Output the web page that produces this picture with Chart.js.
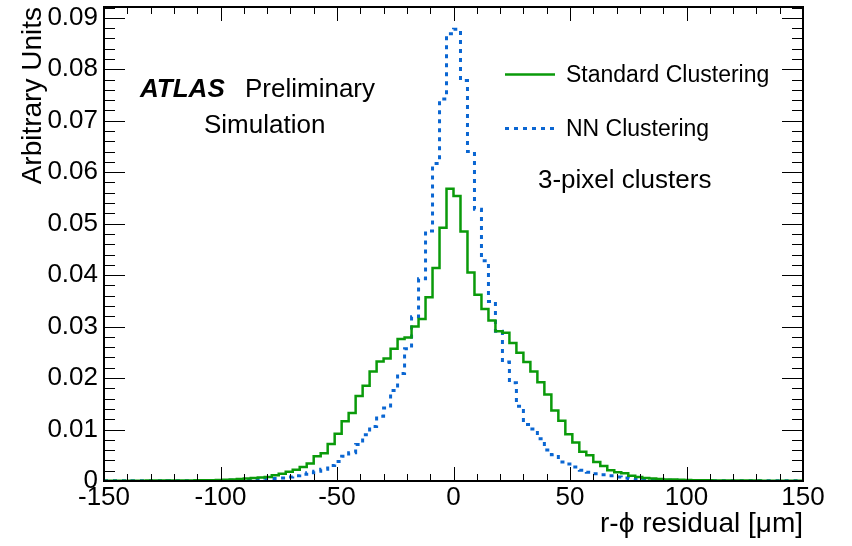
<!DOCTYPE html>
<html>
<head>
<meta charset="utf-8">
<script src="https://cdn.jsdelivr.net/npm/chart.js@4.4.0/dist/chart.umd.min.js"></script>
<style>
  html, body { margin: 0; padding: 0; background: #ffffff; }
  #wrap { width: 852px; height: 546px; }
</style>
</head>
<body>
<div id="wrap"><canvas id="c" width="852" height="546"></canvas></div>
<script>
// Histogram binning: 100 bins of 3 um between -150 and 150 um
const xMin = -150;
const xMax = 150;
const binWidth = 3;
const binEdges = Array.from({ length: 101 }, (_, i) => xMin + i * binWidth);

// Normalised r-phi residuals, one value per bin (left to right)
const standardClustering = [
  0.00005, 0.00005, 0.00005, 0.00006, 0.00006, 0.00007, 0.00008, 0.00008, 0.0001, 0.0001,
  0.0001, 0.00011, 0.00012, 0.00013, 0.00015, 0.00017, 0.0002, 0.00025, 0.0003, 0.0004,
  0.0005, 0.0006, 0.0007, 0.0008, 0.0011, 0.0014, 0.0018, 0.0022, 0.0027, 0.0034,
  0.0048, 0.0054, 0.0072, 0.0092, 0.0116, 0.0132, 0.0165, 0.0185, 0.0213, 0.0232,
  0.0238, 0.0257, 0.0276, 0.0279, 0.0300, 0.0315, 0.0357, 0.0414, 0.0492, 0.0568,
  0.0554, 0.0485, 0.0405, 0.0362, 0.0334, 0.0312, 0.0291, 0.0288, 0.0268, 0.0249,
  0.0231, 0.0213, 0.0192, 0.0168, 0.0137, 0.0117, 0.0091, 0.0075, 0.0057, 0.0050,
  0.0037, 0.0029, 0.0021, 0.0017, 0.0015, 0.0010, 0.0008, 0.0006, 0.0005, 0.0004,
  0.0003, 0.0003, 0.00025, 0.0002, 0.00017, 0.00015, 0.00013, 0.00012, 0.00011, 0.0001,
  0.0001, 0.00009, 0.00008, 0.00008, 0.00007, 0.00006, 0.00006, 0.00005, 0.00005, 0.00005
];
const nnClustering = [
  0.00003, 0.00003, 0.00003, 0.00003, 0.00004, 0.00004, 0.00004, 0.00005, 0.00005, 0.00006,
  0.00006, 0.00007, 0.00007, 0.00008, 0.00009, 0.0001, 0.0001, 0.00012, 0.00013, 0.00015,
  0.0002, 0.0003, 0.0003, 0.0004, 0.0005, 0.0006, 0.0008, 0.0010, 0.0013, 0.0016,
  0.0019, 0.0023, 0.0030, 0.0038, 0.0048, 0.0055, 0.0071, 0.0090, 0.0106, 0.0126,
  0.0142, 0.0176, 0.0209, 0.0257, 0.0319, 0.0393, 0.0486, 0.0617, 0.0742, 0.0869,
  0.0878, 0.0778, 0.0640, 0.0528, 0.0428, 0.0349, 0.0291, 0.0231, 0.0191, 0.0145,
  0.0110, 0.0101, 0.0082, 0.0060, 0.0051, 0.0037, 0.0033, 0.0027, 0.0021, 0.0017,
  0.0014, 0.0012, 0.0010, 0.0008, 0.0006, 0.0005, 0.0004, 0.0003, 0.0003, 0.0002,
  0.00015, 0.00013, 0.00012, 0.0001, 0.0001, 0.00009, 0.00008, 0.00007, 0.00007, 0.00006,
  0.00006, 0.00005, 0.00005, 0.00004, 0.00004, 0.00004, 0.00003, 0.00003, 0.00003, 0.00003
];

const seriesNames = ['Standard Clustering', 'NN Clustering'];

const xTickValues = [-150, -100, -50, 0, 50, 100, 150];
const xTickLabels = ['-150', '-100', '-50', '0', '50', '100', '150'];
const yTickValues = [0, 0.01, 0.02, 0.03, 0.04, 0.05, 0.06, 0.07, 0.08, 0.09];
const yTickLabels = ['0', '0.01', '0.02', '0.03', '0.04', '0.05', '0.06', '0.07', '0.08', '0.09'];
const yMax = 0.0921;

const xTitle = 'r-\u03d5 residual [\u03bcm]';
const yTitle = 'Arbitrary Units';

const FONT = "'Liberation Sans', Arial, Helvetica, sans-serif";
const GREEN = '#0a9a0a';
const BLUE = '#0a66d2';

// Step outline: one point per lower bin edge, plus the closing upper edge
function toSteps(values) {
  const pts = values.map((v, i) => ({ x: binEdges[i], y: v }));
  pts.push({ x: binEdges[values.length], y: values[values.length - 1] });
  return pts;
}

// Frame with inward ticks on all four sides
const frameAndTicks = {
  id: 'frameAndTicks',
  afterDatasetsDraw(chart) {
    const { ctx, chartArea: a, scales: { x, y } } = chart;
    ctx.save();
    ctx.strokeStyle = '#000';
    ctx.lineWidth = 1;
    ctx.beginPath();
    for (let v = xMin; v <= xMax; v += 10) {
      const px = Math.round(x.getPixelForValue(v)) + 0.5;
      const len = (v % 50 === 0) ? 14 : 7;
      ctx.moveTo(px, a.bottom); ctx.lineTo(px, a.bottom - len);
      ctx.moveTo(px, a.top); ctx.lineTo(px, a.top + len);
    }
    for (let k = 0; k * 0.002 <= yMax; k++) {
      const py = Math.round(y.getPixelForValue(k * 0.002)) + 0.5;
      const len = (k % 5 === 0) ? 21 : 11;
      ctx.moveTo(a.left, py); ctx.lineTo(a.left + len, py);
      ctx.moveTo(a.right, py); ctx.lineTo(a.right - len, py);
    }
    ctx.stroke();
    ctx.lineWidth = 2;
    ctx.strokeRect(a.left, a.top, a.right - a.left, a.bottom - a.top);
    ctx.restore();
  }
};

// Experiment label, legend and selection note
const labels = {
  id: 'labels',
  afterDraw(chart) {
    const { ctx } = chart;
    ctx.save();
    ctx.fillStyle = '#000';
    ctx.textBaseline = 'alphabetic';
    ctx.textAlign = 'left';

    ctx.font = `italic bold 26px ${FONT}`;
    ctx.fillText('ATLAS', 140, 97);
    ctx.font = `26px ${FONT}`;
    ctx.fillText('Preliminary', 245, 97);
    ctx.fillText('Simulation', 204, 133);
    ctx.fillText('3-pixel clusters', 538, 188);

    const rows = [82, 136];
    chart.data.datasets.forEach((ds, i) => {
      const yMid = rows[i] - 7.5;
      ctx.save();
      ctx.strokeStyle = ds.borderColor;
      ctx.lineWidth = ds.borderWidth;
      ctx.setLineDash(ds.borderDash || []);
      ctx.beginPath();
      ctx.moveTo(505, yMid);
      ctx.lineTo(555, yMid);
      ctx.stroke();
      ctx.restore();
      ctx.font = `23px ${FONT}`;
      ctx.fillText(ds.label, 566, rows[i]);
    });
    ctx.restore();
  }
};

new Chart(document.getElementById('c'), {
  type: 'line',
  data: {
    datasets: [
      {
        label: seriesNames[0],
        data: toSteps(standardClustering),
        borderColor: GREEN,
        borderWidth: 2.5,
        stepped: true,
        pointRadius: 0,
        fill: false,
        order: 0
      },
      {
        label: seriesNames[1],
        data: toSteps(nnClustering),
        borderColor: BLUE,
        borderWidth: 3,
        borderDash: [4, 5],
        stepped: true,
        pointRadius: 0,
        fill: false,
        order: 1
      }
    ]
  },
  options: {
    responsive: false,
    animation: false,
    devicePixelRatio: 1,
    layout: { padding: { top: 7, right: 49, left: 0, bottom: 0 } },
    plugins: { legend: { display: false }, tooltip: { enabled: false } },
    scales: {
      x: {
        type: 'linear',
        min: xMin,
        max: xMax,
        grid: { display: false, drawTicks: false },
        border: { display: false },
        afterBuildTicks: s => { s.ticks = xTickValues.map(v => ({ value: v })); },
        ticks: {
          callback: (v, i) => xTickLabels[i],
          font: { family: FONT, size: 26 },
          color: '#000',
          padding: 1,
          maxRotation: 0,
          autoSkip: false
        },
        title: {
          display: true,
          text: xTitle,
          align: 'end',
          color: '#000',
          font: { family: FONT, size: 28 },
          padding: { top: 0, bottom: 5 }
        },
        afterFit: s => { s.height = 65; s.paddingLeft = 0; s.paddingRight = 0; }
      },
      y: {
        type: 'linear',
        min: 0,
        max: yMax,
        grid: { display: false, drawTicks: false },
        border: { display: false },
        afterBuildTicks: s => { s.ticks = yTickValues.map(v => ({ value: v })); },
        ticks: {
          callback: (v, i) => yTickLabels[i],
          font: { family: FONT, size: 26 },
          color: '#000',
          padding: 6,
          autoSkip: false
        },
        title: {
          display: true,
          text: yTitle,
          align: 'end',
          color: '#000',
          font: { family: FONT, size: 28 },
          padding: { top: 16, bottom: 0 }
        },
        afterFit: s => { s.width = 104; s.paddingTop = 0; s.paddingBottom = 0; }
      }
    }
  },
  plugins: [frameAndTicks, labels]
});
</script>
</body>
</html>
